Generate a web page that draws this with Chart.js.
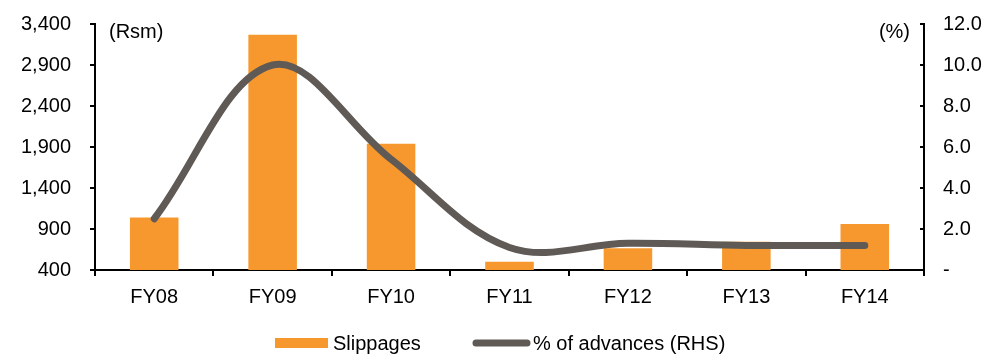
<!DOCTYPE html>
<html>
<head>
<meta charset="utf-8">
<script src="https://cdn.jsdelivr.net/npm/chart.js@4"></script>
<style>
  html, body { margin: 0; padding: 0; background: #fff; }
  #wrap { width: 1003px; height: 356px; }
</style>
</head>
<body>
<div id="wrap"><canvas id="chart" width="1003" height="356"></canvas></div>
<script>
// Données
const years = ['FY08', 'FY09', 'FY10', 'FY11', 'FY12', 'FY13', 'FY14'];
const slippages = [1040, 3270, 1940, 500, 665, 745, 960];
const pctAdvances = [2.5, 10.0, 5.4, 1.1, 1.3, 1.2, 1.2];
const leftTicks = [400, 900, 1400, 1900, 2400, 2900, 3400];
const rightTicks = [0, 2, 4, 6, 8, 10, 12];

const ORANGE = '#F7982F';
const GREY = '#605A56';
const FONT = "'Liberation Sans', Arial, sans-serif";
const FONT_SIZE = 20;

// Unités au-dessus des axes + légende dessinée à la main
const extras = {
    id: 'extras',
    afterDraw(chart) {
        const ctx = chart.ctx;
        const area = chart.chartArea;
        ctx.save();
        ctx.font = FONT_SIZE + 'px ' + FONT;
        ctx.fillStyle = '#000';
        ctx.textBaseline = 'middle';
        ctx.textAlign = 'left';
        ctx.fillText('(Rsm)', area.left + 14, area.top + 8);
        ctx.textAlign = 'right';
        ctx.fillText('(%)', area.right - 14, area.top + 8);

        // Légende
        const ly = 343;
        ctx.fillStyle = ORANGE;
        ctx.fillRect(275, ly - 5, 53, 10);
        ctx.fillStyle = '#000';
        ctx.textAlign = 'left';
        ctx.fillText(chart.data.datasets[1].label, 333, ly + 1);

        ctx.strokeStyle = GREY;
        ctx.lineWidth = 7;
        ctx.lineCap = 'round';
        ctx.beginPath();
        ctx.moveTo(476, ly);
        ctx.lineTo(527, ly);
        ctx.stroke();
        ctx.fillText(chart.data.datasets[0].label, 533, ly + 1);

        // petites graduations intérieures de l'axe droit
        const s = chart.scales.y1;
        ctx.strokeStyle = '#000';
        ctx.lineWidth = 2;
        ctx.lineCap = 'butt';
        s.ticks.forEach(t => {
            const y = Math.round(s.getPixelForValue(t.value));
            ctx.beginPath();
            ctx.moveTo(s.left - 4, y);
            ctx.lineTo(s.left, y);
            ctx.stroke();
        });
        ctx.restore();
    }
};

new Chart(document.getElementById('chart'), {
    data: {
        labels: years,
        datasets: [
            {
                type: 'line',
                label: '% of advances (RHS)',
                data: pctAdvances,
                yAxisID: 'y1',
                borderColor: GREY,
                backgroundColor: GREY,
                borderWidth: 7,
                borderCapStyle: 'round',
                tension: 0.36,
                pointRadius: 0,
                order: 1
            },
            {
                type: 'bar',
                label: 'Slippages',
                data: slippages,
                yAxisID: 'y',
                backgroundColor: ORANGE,
                barPercentage: 0.41,
                categoryPercentage: 1,
                order: 2
            }
        ]
    },
    options: {
        responsive: false,
        animation: false,
        layout: { padding: { top: 24, bottom: 0, left: 0, right: 0 } },
        plugins: {
            tooltip: { enabled: false },
            legend: { display: false }
        },
        scales: {
            x: {
                offset: true,
                grid: { display: true, offset: true, drawOnChartArea: false, drawTicks: true, tickLength: 6, color: '#000', lineWidth: 2 },
                border: { display: true, color: '#000', width: 2 },
                ticks: { font: { family: FONT, size: FONT_SIZE }, color: '#000', padding: 9 },
                afterFit(scale) { scale.height = 86; }
            },
            y: {
                position: 'left',
                min: 400,
                max: 3400,
                afterBuildTicks(scale) { scale.ticks = leftTicks.map(v => ({ value: v })); },
                grid: { drawOnChartArea: false, drawTicks: true, tickLength: 5, color: '#000', lineWidth: 2 },
                border: { display: true, color: '#000', width: 2 },
                ticks: {
                    font: { family: FONT, size: FONT_SIZE },
                    color: '#000',
                    padding: 19,
                    callback: v => v.toLocaleString('en-US')
                },
                afterFit(scale) {
                    scale.width = 95;
                    scale.paddingTop = 0;
                    scale.paddingBottom = 0;
                }
            },
            y1: {
                position: 'right',
                min: 0,
                max: 12,
                afterBuildTicks(scale) { scale.ticks = rightTicks.map(v => ({ value: v })); },
                grid: { drawOnChartArea: false, drawTicks: false, color: '#000', lineWidth: 2 },
                border: { display: true, color: '#000', width: 2 },
                ticks: {
                    font: { family: FONT, size: FONT_SIZE },
                    color: '#000',
                    padding: 19,
                    callback: v => v === 0 ? '-' : v.toFixed(1)
                },
                afterFit(scale) {
                    scale.width = 79;
                    scale.paddingTop = 0;
                    scale.paddingBottom = 0;
                }
            }
        }
    },
    plugins: [extras]
});
</script>
</body>
</html>
